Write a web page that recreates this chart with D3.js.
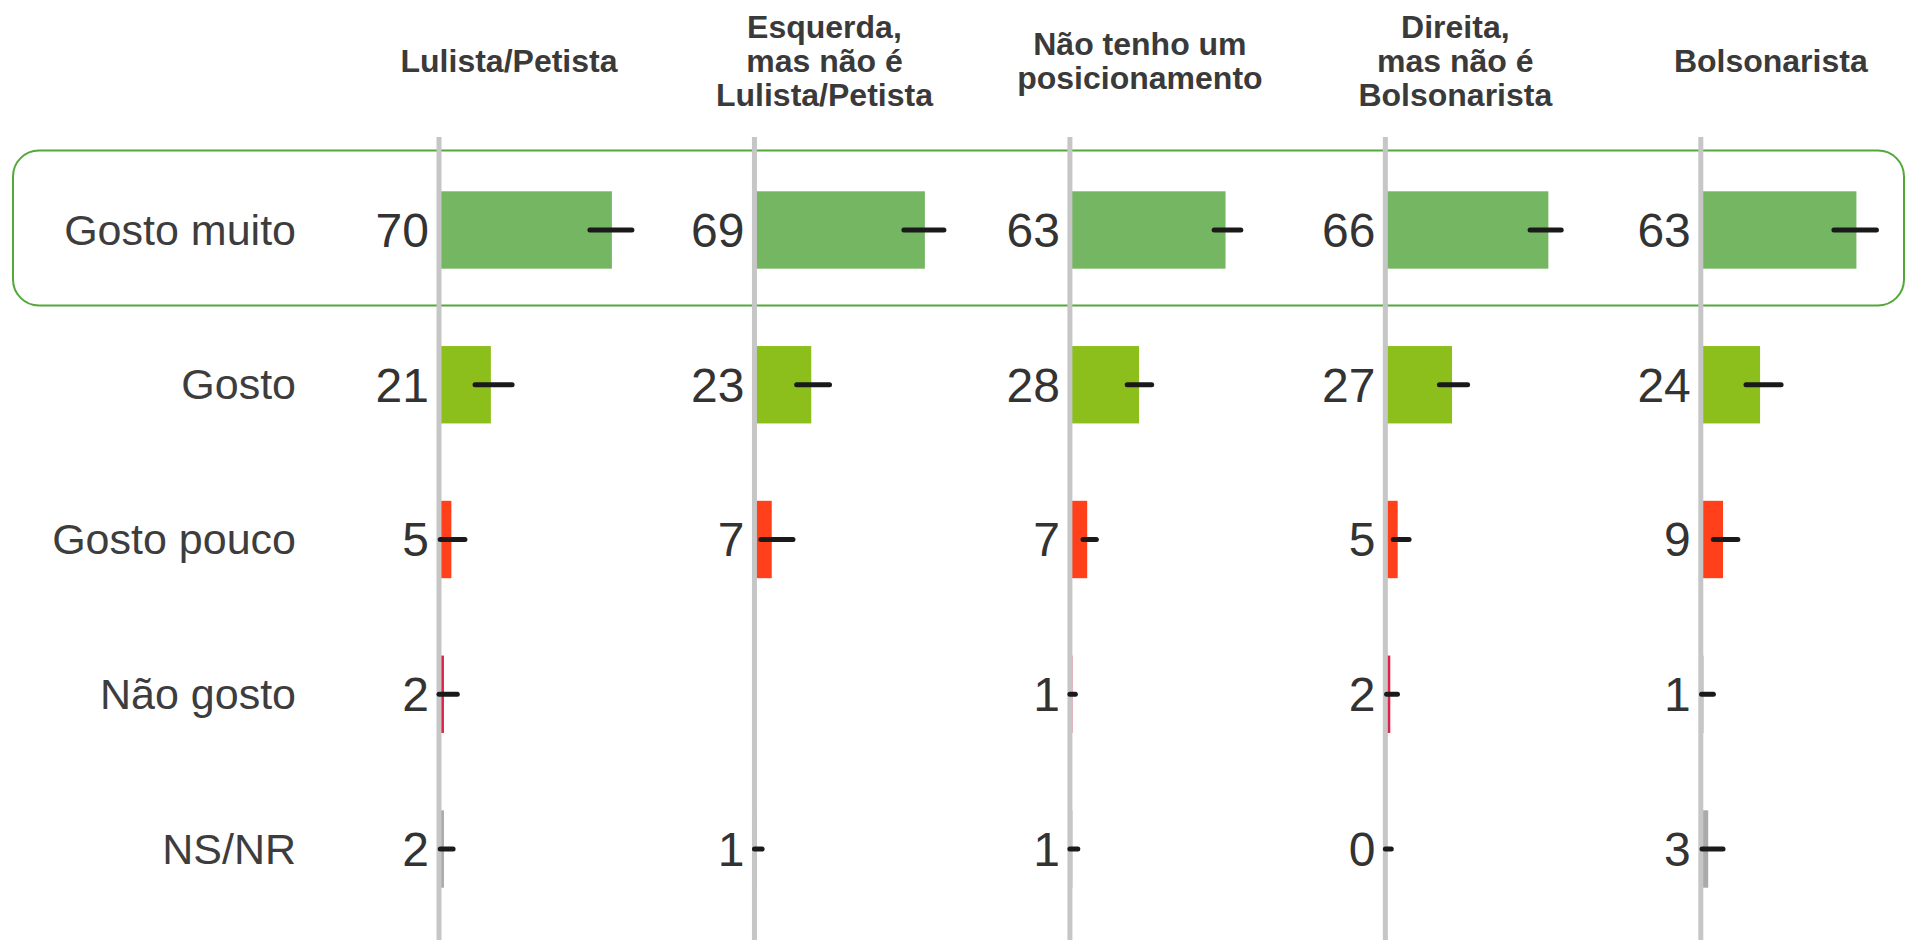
<!DOCTYPE html>
<html>
<head>
<meta charset="utf-8">
<script src="https://cdn.jsdelivr.net/npm/d3@7"></script>
<style>
    body { margin: 0; background: #fff; }
    svg { display: block; font-family: "Liberation Sans", Arial, sans-serif; }
</style>
</head>
<body>
<div class="chart"></div>
<script>
// column headers (one entry per line)
var groups = ["Lulista/Petista", "Esquerda", "Sem posição", "Direita", "Bolsonarista"];
var groupLabels = [
    ["Lulista/Petista"],
    ["Esquerda,", "mas não é", "Lulista/Petista"],
    ["Não tenho um", "posicionamento"],
    ["Direita,", "mas não é", "Bolsonarista"],
    ["Bolsonarista"]
];

var categories = ["Gosto muito", "Gosto", "Gosto pouco", "Não gosto", "NS/NR"];
var colors = ["#74b662", "#8cbf1b", "#ff401a", "#e0224a", "#aaaaaa"];

// values per category, one per group
var gostoMuito = [70, 69, 63, 66, 63];
var gosto = [21, 23, 28, 27, 24];
var gostoPouco = [5, 7, 7, 5, 9];
var naoGosto = [2, null, 1, 2, 1];
var nsnr = [2, 1, 1, 0, 3];

// error bars (low / high)
var gostoMuitoLo = [61.1, 60.5, 58.4, 58.6, 53.9];
var gostoMuitoHi = [78.1, 76.7, 69.2, 71.2, 71.1];
var gostoLo = [14.6, 17.1, 23.2, 21.9, 18.3];
var gostoHi = [29.6, 30.4, 33.1, 33.3, 32.5];
var gostoPoucoLo = [0.5, 2.6, 5.3, 3.2, 5.1];
var gostoPoucoHi = [10.5, 15.6, 10.7, 9.6, 15.0];
var naoGostoLo = [0, null, 0, 0.5, 0.3];
var naoGostoHi = [7.4, null, 2.2, 4.9, 5.1];
var nsnrLo = [0.5, 0, 0, 0, 0.5];
var nsnrHi = [5.7, 3.1, 3.2, 2.4, 9.0];

var values = [gostoMuito, gosto, gostoPouco, naoGosto, nsnr];
var lows = [gostoMuitoLo, gostoLo, gostoPoucoLo, naoGostoLo, nsnrLo];
var highs = [gostoMuitoHi, gostoHi, gostoPoucoHi, naoGostoHi, nsnrHi];

var width = 1906;
var height = 940;

var svg = d3.select(".chart")
    .append("svg")
    .attr("width", width)
    .attr("height", height);

// flatten into cells
var cells = [];
categories.forEach(function (c, i) {
    groups.forEach(function (g, j) {
        if (values[i][j] == null) return;
        cells.push({ cat: c, group: g, value: values[i][j], lo: lows[i][j], hi: highs[i][j], color: colors[i] });
    });
});

var xGroup = d3.scalePoint()
    .domain(groups)
    .range([439, 1700.8]);

var xVal = d3.scaleLinear()
    .domain([0, 100])
    .range([0, 247]);

var y = d3.scaleBand()
    .domain(categories)
    .range([152.6, 926.4])
    .paddingInner(0.5)
    .paddingOuter(0.25);

// highlight box round first row
svg.append("rect")
    .attr("x", 13)
    .attr("y", 150.5)
    .attr("width", 1891)
    .attr("height", 155)
    .attr("rx", 26)
    .attr("fill", "none")
    .attr("stroke", "#52a83a")
    .attr("stroke-width", 2);

// bars
svg.append("g")
    .selectAll("rect")
    .data(cells)
    .enter()
    .append("rect")
    .attr("x", function (d) { return xGroup(d.group); })
    .attr("y", function (d) { return y(d.cat); })
    .attr("width", function (d) { return xVal(d.value); })
    .attr("height", y.bandwidth())
    .attr("fill", function (d) { return d.color; });

// vertical zero lines, drawn over the bar starts
svg.append("g")
    .selectAll("line")
    .data(groups)
    .enter()
    .append("line")
    .attr("x1", function (d) { return xGroup(d); })
    .attr("x2", function (d) { return xGroup(d); })
    .attr("y1", 137)
    .attr("y2", height)
    .attr("stroke", "#c6c6c6")
    .attr("stroke-width", 5);

// error bars
svg.append("g")
    .selectAll("line")
    .data(cells)
    .enter()
    .append("line")
    .attr("x1", function (d) { return xGroup(d.group) + xVal(d.lo); })
    .attr("x2", function (d) { return xGroup(d.group) + xVal(d.hi); })
    .attr("y1", function (d) { return y(d.cat) + y.bandwidth() / 2; })
    .attr("y2", function (d) { return y(d.cat) + y.bandwidth() / 2; })
    .attr("stroke", "#1a1a1a")
    .attr("stroke-width", 5)
    .attr("stroke-linecap", "round");

// value labels
svg.append("g")
    .selectAll("text")
    .data(cells)
    .enter()
    .append("text")
    .attr("x", function (d) { return xGroup(d.group) - 10; })
    .attr("y", function (d) { return y(d.cat) + y.bandwidth() / 2; })
    .attr("dy", "0.35em")
    .attr("text-anchor", "end")
    .style("font-size", "48px")
    .style("fill", "#333")
    .text(function (d) { return d.value; });

// row labels
svg.append("g")
    .selectAll("text")
    .data(categories)
    .enter()
    .append("text")
    .attr("x", 296)
    .attr("y", function (d) { return y(d) + y.bandwidth() / 2; })
    .attr("dy", "0.34em")
    .attr("text-anchor", "end")
    .style("font-size", "43px")
    .style("fill", "#3d3d3d")
    .text(function (d) { return d; });

// column headers
var lineGap = 34.3;
var heads = svg.append("g")
    .selectAll("text")
    .data(groups)
    .enter()
    .append("text")
    .attr("text-anchor", "middle")
    .style("font-size", "32px")
    .style("font-weight", "bold")
    .style("fill", "#3a3a3a");

heads.each(function (g, i) {
    var lines = groupLabels[i];
    var top = 72 - (lines.length - 1) / 2 * lineGap;
    d3.select(this)
        .selectAll("tspan")
        .data(lines)
        .enter()
        .append("tspan")
        .attr("x", xGroup(g) + 70)
        .attr("y", function (d, k) { return top + k * lineGap; })
        .text(function (d) { return d; });
});
</script>
</body>
</html>
